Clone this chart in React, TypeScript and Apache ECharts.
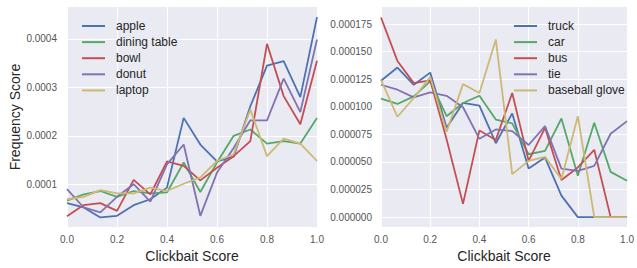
import React, { useEffect, useRef } from "react";
import * as echarts from "echarts";

const xs = [0, 0.0667, 0.1333, 0.2, 0.2667, 0.3333, 0.4, 0.4667, 0.5333, 0.6, 0.6667, 0.7333, 0.8, 0.8667, 0.9333, 1.0];

const leftNames = ["apple", "dining table", "bowl", "donut", "laptop"];
const apple = [0.000061, 0.000052, 0.0000314, 0.0000348, 0.0000568, 0.000069, 0.000093, 0.000237, 0.000182, 0.000147, 0.000157, 0.000261, 0.000345, 0.000354, 0.00028, 0.000445];
const diningTable = [0.000066, 0.000079, 0.000086, 0.000074, 0.000086, 0.000081, 0.000083, 0.000145, 0.000084, 0.000145, 0.0002, 0.000213, 0.000184, 0.000189, 0.000184, 0.000237];
const bowl = [0.000034, 0.000057, 0.000061, 0.000045, 0.000109, 0.000079, 0.000147, 0.000138, 0.000108, 0.000134, 0.000158, 0.000189, 0.00039, 0.000282, 0.000224, 0.000355];
const donut = [0.00009, 0.000052, 0.000042, 0.000074, 0.0001, 0.000064, 0.000141, 0.000182, 0.0000348, 0.000124, 0.000175, 0.000232, 0.000232, 0.000318, 0.000249, 0.000399];
const laptop = [0.000069, 0.000074, 0.000088, 0.000081, 0.000081, 0.000093, 0.000086, 0.000101, 0.000114, 0.000148, 0.000162, 0.000254, 0.000158, 0.000194, 0.000184, 0.000148];

const rightNames = ["truck", "car", "bus", "tie", "baseball glove"];
const truck = [0.0001236, 0.0001356, 0.00012, 0.000131, 0.000081, 0.0001035, 0.000101, 0.000067, 0.000094, 0.000044, 0.000054, 0.0000195, 0, 0, 0, 0];
const car = [0.0001074, 0.0001026, 0.0001095, 0.000123, 0.0000915, 0.0001035, 0.00011, 0.0000885, 0.000085, 0.000057, 0.00006, 0.0000894, 0.0000375, 0.0000855, 0.000041, 0.000033];
const bus = [0.000181, 0.0001416, 0.0001215, 0.000124, 0.0000705, 0.000012, 0.0000786, 0.00007, 0.0001125, 0.000051, 0.000081, 0.0000336, 0.000045, 0.000061, 0, 0];
const tie = [0.00012, 0.0001155, 0.0001086, 0.000113, 0.00011, 0.0000996, 0.000071, 0.0000795, 0.000078, 0.0000654, 0.0000825, 0.000044, 0.000042, 0.0000465, 0.0000756, 0.000087];
const baseballGlove = [0.0001245, 0.000091, 0.000108, 0.000127, 0.0000774, 0.0001206, 0.0001125, 0.000161, 0.000039, 0.000051, 0.0000546, 0.0000345, 0.0000915, 0, 0, 0];

const xTicks = [0, 0.2, 0.4, 0.6, 0.8, 1.0];
const leftYTicks = [0.0001, 0.0002, 0.0003, 0.0004];
const rightYTicks = [0, 0.000025, 0.00005, 0.000075, 0.0001, 0.000125, 0.00015, 0.000175];

const colors = ["#4C72B0", "#55A868", "#C44E52", "#8172B2", "#CCB974"];
const FONT = "Liberation Sans, Arial, sans-serif";

export default function App() {
  const ref = useRef<HTMLDivElement>(null);
  useEffect(() => {
    const chart = echarts.init(ref.current!, null, { renderer: "svg" });
    const leftData = [apple, diningTable, bowl, donut, laptop];
    const rightData = [truck, car, bus, tie, baseballGlove];
    const mkSeries = (names: string[], data: number[][], idx: number) =>
      names.map((n, i) => ({
        name: n,
        type: "line",
        xAxisIndex: idx,
        yAxisIndex: idx,
        data: data[i].map((v, j) => [xs[j], v]),
        showSymbol: false,
        symbol: "none",
        lineStyle: { width: 1.8, color: colors[i] },
        itemStyle: { color: colors[i] },
      }));
    const xAxisBase = (gi: number) => ({
      type: "value",
      gridIndex: gi,
      min: 0,
      max: 1,
      interval: 0.2,
      name: "Clickbait Score",
      nameLocation: "middle",
      nameGap: 21,
      nameTextStyle: { fontSize: 14, color: "#262626", fontFamily: FONT },
      axisLine: { show: false },
      axisTick: { show: false, customValues: xTicks },
      axisLabel: {
        fontSize: 10,
        color: "#555",
        fontFamily: FONT,
        margin: 7,
        customValues: xTicks,
        formatter: (v: number) => v.toFixed(1),
      },
      splitLine: { show: true, lineStyle: { color: "#fff", width: 1 } },
    });
    const legendBase = (names: string[], left: number) => ({
      data: names,
      orient: "vertical",
      left,
      top: 14,
      icon: "rect",
      itemWidth: 23,
      itemHeight: 2,
      itemGap: 2.1,
      textStyle: {
        fontSize: 12,
        color: "#262626",
        fontFamily: FONT,
        lineHeight: 14,
        padding: [0, 0, 0, 6],
      },
    });
    chart.setOption({
      animation: false,
      grid: [
        { left: 67, right: 320, top: 7, bottom: 40, show: true, backgroundColor: "#EAEAF2", borderWidth: 0 },
        { left: 381, right: 5, top: 7, bottom: 40, show: true, backgroundColor: "#EAEAF2", borderWidth: 0 },
      ],
      legend: [legendBase(leftNames, 77), legendBase(rightNames, 509)],
      xAxis: [xAxisBase(0), xAxisBase(1)],
      yAxis: [
        {
          type: "value",
          gridIndex: 0,
          min: 0.0000115,
          max: 0.000466,
          name: "Frequency Score",
          nameLocation: "middle",
          nameGap: 45,
          nameTextStyle: { fontSize: 14, color: "#262626", fontFamily: FONT },
          axisLine: { show: false },
          axisTick: { show: false, customValues: leftYTicks },
          axisLabel: {
            fontSize: 10,
            color: "#555",
            fontFamily: FONT,
            margin: 10,
            customValues: leftYTicks,
            formatter: (v: number) => v.toFixed(4),
          },
          splitLine: { show: true, lineStyle: { color: "#fff", width: 1 } },
        },
        {
          type: "value",
          gridIndex: 1,
          min: -0.00000905,
          max: 0.0001905,
          axisLine: { show: false },
          axisTick: { show: false, customValues: rightYTicks },
          axisLabel: {
            fontSize: 10,
            color: "#555",
            fontFamily: FONT,
            margin: 9,
            customValues: rightYTicks,
            formatter: (v: number) => v.toFixed(6),
          },
          splitLine: { show: true, lineStyle: { color: "#fff", width: 1 } },
        },
      ],
      series: [...mkSeries(leftNames, leftData, 0), ...mkSeries(rightNames, rightData, 1)],
    });
    return () => chart.dispose();
  }, []);
  return <div ref={ref} style={{ width: 637, height: 268, position: "absolute", left: 0, top: 0 }} />;
}
